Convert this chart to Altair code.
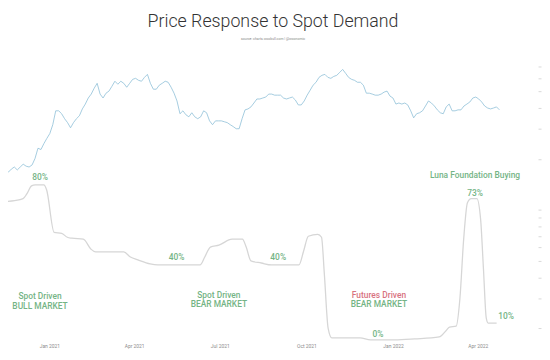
import altair as alt
import pandas as pd

# ---------------- data ----------------
price_start = "2020-11-09"
price_end = "2022-04-24"
# BTC price (thousand USD) at regular intervals
price_k = [
    15.4, 15.8, 16.3, 16.7, 17.4, 17.9, 17.2, 17.9, 18.6, 18.1, 17.9, 18.4, 20.1, 23.1, 22.7, 24.6,
    26.4, 28.2, 31.8, 38.4, 38.4, 36.9, 34.5, 32.7, 30.5, 32.7, 34.5, 35.9, 39.4, 42.1, 45.7, 48.2,
    52.2, 55.8, 48.2, 45.7, 48.8, 50.2, 53.6, 57.4, 55.1, 57.4, 55.8, 52.9, 55.8, 58.9, 59.7, 58.1,
    57.4, 60.5, 63.0, 55.8, 51.5, 51.5, 54.4, 55.8, 57.4, 56.6, 52.9, 48.8, 43.9, 36.9, 38.4, 36.4,
    35.4, 37.4, 35.4, 34.5, 35.4, 38.4, 37.4, 33.5, 31.8, 33.5, 33.5, 33.5, 33.1, 32.7, 31.8, 31.0,
    30.1, 30.1, 34.5, 38.9, 39.4, 40.5, 42.7, 45.1, 45.1, 45.7, 46.3, 48.2, 48.2, 47.5, 47.5, 47.5,
    45.7, 45.1, 45.7, 46.3, 44.5, 41.6, 41.6, 43.9, 47.5, 50.8, 54.4, 56.6, 60.5, 62.2, 63.0, 60.5,
    59.7, 61.3, 62.2, 64.7, 67.4, 63.9, 60.5, 58.9, 58.1, 56.6, 56.6, 54.4, 48.8, 48.8, 48.2, 47.5,
    47.5, 48.2, 49.5, 50.2, 46.9, 45.7, 42.1, 42.7, 42.1, 42.7, 41.6, 38.4, 34.9, 36.9, 37.4, 38.4,
    41.0, 43.9, 42.7, 41.0, 38.9, 37.4, 36.9, 40.5, 42.1, 38.4, 38.4, 38.9, 38.9, 41.0, 42.1, 43.3,
    45.7, 46.3, 45.1, 43.3, 41.0, 39.9, 39.4, 39.9, 40.5, 38.9,
]

# Spot demand share (%)
demand_dates = [
    "2020-11-09", "2020-11-25", "2020-12-04", "2020-12-08", "2020-12-13", "2020-12-17", "2020-12-26",
    "2020-12-29", "2021-01-06", "2021-01-14", "2021-01-20", "2021-01-25", "2021-02-06", "2021-02-14",
    "2021-02-19", "2021-03-21", "2021-03-28", "2021-04-05", "2021-04-18", "2021-04-26", "2021-06-10",
    "2021-06-15", "2021-06-21", "2021-06-30", "2021-07-14", "2021-07-25", "2021-07-29", "2021-08-03",
    "2021-08-14", "2021-08-25", "2021-09-23", "2021-09-28", "2021-10-03", "2021-10-13", "2021-10-17",
    "2021-10-20", "2021-10-24", "2021-10-28", "2021-11-27", "2021-12-08", "2022-01-03", "2022-01-24",
    "2022-02-19", "2022-02-26", "2022-03-02", "2022-03-09", "2022-03-13", "2022-03-17", "2022-03-21",
    "2022-03-25", "2022-03-31", "2022-04-04", "2022-04-07", "2022-04-10", "2022-04-12", "2022-04-21",
]
demand_pct = [
    71.3, 71.9, 72.9, 75.4, 79.5, 80.0, 80.0,
    77.5, 55.5, 55.0, 53.0, 52.5, 52.0, 46.9,
    45.4, 45.4, 42.8, 41.3, 39.2, 38.7, 38.7,
    42.8, 47.9, 48.9, 52.0, 52.0, 47.9, 40.8,
    39.7, 38.7, 38.7, 45.9, 53.5, 54.5, 53.0,
    34.1, 6.1, 1.0, 1.0, 0.0, 0.0, 0.5,
    1.5, 4.6, 6.6, 7.1, 21.4, 52.0, 70.8,
    72.9, 72.9, 62.2, 36.7, 11.2, 8.7, 8.7,
]

# annotations
ann_text = ["80%", "Spot Driven", "BULL MARKET", "40%", "Spot Driven", "BEAR MARKET", "40%",
            "Futures Driven", "BEAR MARKET", "0%", "Luna Foundation Buying", "73%", "10%"]
ann_date = ["2020-12-22", "2020-12-22", "2020-12-22", "2021-05-16", "2021-06-30", "2021-06-30",
            "2021-09-01", "2021-12-17", "2021-12-17", "2021-12-16", "2022-03-29", "2022-03-29",
            "2022-05-01"]
ann_pct = [84.1, 22.4, 17.3, 42.8, 23.4, 18.3, 42.8, 23.4, 18.3, 3.1, 85.1, 75.9, 12.2]
ann_color = ["#74b485", "#74b485", "#74b485", "#74b485", "#74b485", "#74b485", "#74b485",
             "#d8727f", "#74b485", "#74b485", "#74b485", "#74b485", "#74b485"]

price_ticks = [2, 3, 4, 5, 6, 7, 8, 9, 10, 20, 30, 40, 50, 60, 70]
x_tick_dates = ["2021-01-01", "2021-04-01", "2021-07-01", "2021-10-01", "2022-01-01", "2022-04-01"]

# ---------------- frames ----------------
price_df = pd.DataFrame({
    "date": pd.date_range(price_start, price_end, periods=len(price_k)),
    "price": price_k,
})
demand_df = pd.DataFrame({"date": pd.to_datetime(demand_dates), "pct": demand_pct})
ann_df = pd.DataFrame({"date": pd.to_datetime(ann_date), "pct": ann_pct,
                       "text": ann_text, "color": ann_color})


def dt(s):
    t = pd.Timestamp(s)
    return alt.DateTime(year=t.year, month=t.month, date=t.day)


x_scale = alt.Scale(domain=[dt("2020-11-18"), dt("2022-06-04")])
x_axis = alt.Axis(
    format="%b %Y",
    values=[dt(s) for s in x_tick_dates],
    labelFontSize=5, labelColor="#8c8c8c", ticks=False, domain=False, grid=False,
    labelPadding=2, title=None, labelFont="Roboto", labelOverlap=False,
)
pct_scale = alt.Scale(domain=[-1.02, 143.7], nice=False, zero=False)

price_line = alt.Chart(price_df).mark_line(
    color="#8ec0d8", strokeWidth=0.8, clip=True
).encode(
    x=alt.X("date:T", scale=x_scale, axis=x_axis),
    y=alt.Y("price:Q",
            scale=alt.Scale(type="log", domain=[1.664, 75.0], nice=False),
            axis=alt.Axis(orient="right", values=price_ticks, labels=False, tickSize=3,
                          tickColor="#d8d8d8", domain=False, grid=False, title=None)),
)

demand_line = alt.Chart(demand_df).mark_line(
    color="#d6d6d6", strokeWidth=1.3, interpolate="monotone", clip=True
).encode(
    x=alt.X("date:T", scale=x_scale),
    y=alt.Y("pct:Q", scale=pct_scale, axis=None),
)

labels = alt.Chart(ann_df).mark_text(
    font="Roboto", fontSize=8.5, fontWeight=500, baseline="middle", align="center"
).encode(
    x=alt.X("date:T", scale=x_scale),
    y=alt.Y("pct:Q", scale=pct_scale, axis=None),
    text="text:N",
    color=alt.Color("color:N", scale=None),
)

chart = alt.layer(price_line, demand_line, labels).resolve_scale(
    y="independent"
).properties(
    width=537, height=284,
    padding={"top": 3, "left": 0, "right": 0, "bottom": 0},
    title=alt.Title(
        text="Price Response to Spot Demand",
        subtitle="source: charts.woobull.com | @woonomic",
        fontSize=18, font="Roboto", fontWeight=300, color="#333333",
        subtitleFontSize=3.5, subtitleColor="#8a8a8a", subtitleFont="Roboto",
        subtitlePadding=6, offset=21, anchor="middle",
    ),
).configure_view(stroke=None)

chart.save("out.html", embed_options={"renderer": "svg", "actions": False})
